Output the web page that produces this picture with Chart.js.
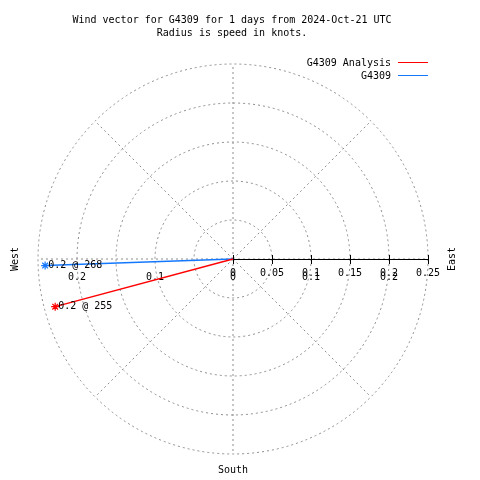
<!DOCTYPE html>
<html>
<head>
<meta charset="utf-8">
<script src="https://cdn.jsdelivr.net/npm/chart.js@4/dist/chart.umd.min.js"></script>
<style>
  body { margin: 0; background: #fff; }
  canvas { display: block; }
</style>
</head>
<body>
<canvas id="wind-chart" width="480" height="480"></canvas>
<script>
// series: speed (knots) and direction (degrees, compass)
const seriesNames = ["G4309 Analysis", "G4309"];
const seriesColors = ["#ff0000", "#1478ff"];
const speeds = [0.236, 0.241];
const directions = [255, 268];

// rings and tick labels
const ringRadii = [0.05, 0.1, 0.15, 0.2, 0.25];
const eastTicks = [0, 0.05, 0.1, 0.15, 0.2, 0.25];
const sideTicks = [-0.2, -0.1, 0, 0.1, 0.2];
const spokeAngles = [0, 45, 90, 135, 180, 225, 270, 315];

const titleLines = ["Wind vector for G4309 for 1 days from 2024-Oct-21 UTC", "Radius is speed in knots."];
const FONT = "10px 'DejaVu Sans Mono', monospace";

function tipOf(speed, dir) {
    let rad = dir * Math.PI / 180;
    return { x: speed * Math.sin(rad), y: speed * Math.cos(rad) };
}

function fmt(v) {
    let a = Math.abs(v);
    return a === 0 ? "0" : String(parseFloat(a.toFixed(2)));
}

const datasets = seriesNames.map((name, i) => ({
    label: name,
    data: [{ x: 0, y: 0 }, tipOf(speeds[i], directions[i])],
    showLine: true,
    borderColor: seriesColors[i],
    backgroundColor: seriesColors[i],
    borderWidth: 1.4,
    pointStyle: "star",
    pointRadius: [0, 4],
    pointBorderWidth: 1.2,
}));

// grid rings, spokes, axis and all texts
const polarDecor = {
    id: "polarDecor",
    beforeDatasetsDraw(chart) {
        const ctx = chart.ctx;
        const xs = chart.scales.x, ys = chart.scales.y;
        const cx = xs.getPixelForValue(0), cy = ys.getPixelForValue(0);
        const unit = xs.getPixelForValue(1) - cx;
        ctx.save();
        ctx.strokeStyle = "#8c8c8c";
        ctx.lineWidth = 1;
        ctx.setLineDash([2, 3]);
        ringRadii.forEach(r => {
            ctx.beginPath();
            ctx.arc(cx, cy, r * unit, 0, Math.PI * 2);
            ctx.stroke();
        });
        const rMax = ringRadii[ringRadii.length - 1] * unit;
        spokeAngles.forEach(a => {
            let rad = a * Math.PI / 180;
            ctx.beginPath();
            ctx.moveTo(cx, cy);
            ctx.lineTo(cx + rMax * Math.sin(rad), cy - rMax * Math.cos(rad));
            ctx.stroke();
        });
        ctx.setLineDash([]);
        // east axis
        ctx.strokeStyle = "#000";
        ctx.beginPath();
        ctx.moveTo(cx, cy + 0.5);
        ctx.lineTo(xs.getPixelForValue(eastTicks[eastTicks.length - 1]), cy + 0.5);
        eastTicks.forEach(t => {
            let px = Math.round(xs.getPixelForValue(t)) + 0.5;
            ctx.moveTo(px, cy - 4);
            ctx.lineTo(px, cy + 5);
        });
        ctx.stroke();
        ctx.fillStyle = "#000";
        ctx.font = FONT;
        ctx.textAlign = "center";
        ctx.textBaseline = "middle";
        eastTicks.forEach(t => ctx.fillText(fmt(t), xs.getPixelForValue(t), cy + 14));
        sideTicks.forEach(t => ctx.fillText(fmt(t), xs.getPixelForValue(t), cy + 18));
        ctx.restore();
    },
    afterDatasetsDraw(chart) {
        const ctx = chart.ctx;
        const xs = chart.scales.x, ys = chart.scales.y;
        const cx = xs.getPixelForValue(0), cy = ys.getPixelForValue(0);
        ctx.save();
        ctx.fillStyle = "#000";
        ctx.font = FONT;
        ctx.textBaseline = "middle";
        // vector labels
        ctx.textAlign = "left";
        seriesNames.forEach((n, i) => {
            let p = tipOf(speeds[i], directions[i]);
            ctx.fillText(speeds[i].toFixed(1) + " @ " + directions[i],
                xs.getPixelForValue(p.x) + 3, ys.getPixelForValue(p.y));
        });
        // title
        ctx.textAlign = "center";
        ctx.fillText(titleLines[0], 232, 20);
        ctx.fillText(titleLines[1], 232, 33);
        ctx.fillText("South", cx, 470);
        // legend
        seriesNames.forEach((n, i) => {
            let y = 63 + i * 13;
            ctx.textAlign = "right";
            ctx.fillText(n, 391, y);
            ctx.strokeStyle = seriesColors[i];
            ctx.lineWidth = 1;
            ctx.beginPath();
            ctx.moveTo(398, y - 0.5);
            ctx.lineTo(428, y - 0.5);
            ctx.stroke();
        });
        // side labels
        ctx.textAlign = "center";
        [["West", 15], ["East", 452]].forEach(([txt, x]) => {
            ctx.save();
            ctx.translate(x, cy);
            ctx.rotate(-Math.PI / 2);
            ctx.fillText(txt, 0, 0);
            ctx.restore();
        });
        ctx.restore();
    }
};

new Chart(document.getElementById("wind-chart"), {
    type: "scatter",
    data: { datasets: datasets },
    options: {
        responsive: false,
        animation: false,
        layout: { padding: { left: 38, right: 52, top: 64, bottom: 26 } },
        plugins: {
            legend: { display: false },
            tooltip: { enabled: false },
        },
        scales: {
            x: { display: false, min: -0.25, max: 0.25 },
            y: { display: false, min: -0.25, max: 0.25 },
        },
    },
    plugins: [polarDecor],
});
</script>
</body>
</html>
